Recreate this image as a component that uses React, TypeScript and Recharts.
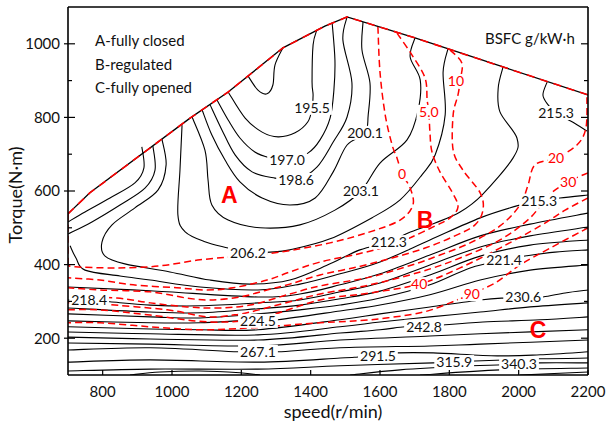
import { LineChart, Line, XAxis, YAxis } from 'recharts'

type Pt = [number, number]
type Tag = [number, number, string]

// full load torque limit
const limitCurve: Pt[] = [[700, 538], [763, 595], [1052, 798], [1162, 869], [1320, 989], [1441, 1048], [1505, 1073], [1701, 1016], [1955, 937], [2200, 861]]
const leftEdgeRed: Pt[] = [[700, 538], [700, 399]]

// BSFC iso-lines (g/kW·h)
const hook1955: Pt[] = [[1219, 913], [1248, 874], [1274, 864], [1291, 888], [1297, 942], [1320, 989]]
const c1955: Pt[] = [[1162, 869], [1211, 798], [1260, 760], [1306, 747], [1355, 758], [1392, 788], [1404, 826], [1407, 861], [1404, 896], [1407, 997], [1418, 1038]]
const c1970: Pt[] = [[1130, 847], [1162, 793], [1196, 744], [1239, 706], [1283, 690], [1332, 684], [1392, 703], [1427, 739], [1456, 798], [1467, 874], [1470, 956], [1462, 1057]]
const c1986: Pt[] = [[1110, 834], [1144, 766], [1182, 698], [1231, 652], [1297, 635], [1358, 630], [1418, 665], [1465, 733], [1505, 801], [1519, 894], [1493, 1010], [1505, 1073]]
const c2001: Pt[] = [[1087, 820], [1115, 752], [1153, 684], [1196, 625], [1260, 581], [1340, 562], [1413, 581], [1465, 652], [1505, 725], [1557, 758], [1566, 807], [1571, 894], [1548, 983], [1551, 1059]]
const c2031: Pt[] = [[1058, 801], [1095, 711], [1104, 630], [1115, 562], [1162, 521], [1254, 500], [1369, 508], [1470, 548], [1545, 600], [1600, 676], [1678, 739], [1710, 820], [1716, 902], [1687, 964], [1701, 1016]]
const c2062: Pt[] = [[1029, 779], [1023, 657], [1017, 535], [1038, 489], [1095, 462], [1162, 445], [1219, 432], [1283, 434], [1340, 440], [1456, 470], [1580, 529], [1658, 576], [1721, 644], [1759, 698], [1788, 807], [1782, 923], [1796, 986]]
const corner1: Pt[] = [[913, 720], [919, 663], [893, 622], [821, 581], [749, 543], [700, 516]]
const corner2: Pt[] = [[945, 722], [951, 657], [922, 608], [850, 562], [769, 516], [700, 483]]
const c2123: Pt[] = [[971, 741], [983, 671], [960, 603], [893, 554], [827, 508], [798, 461], [807, 423], [864, 402], [994, 380], [1110, 358], [1225, 347], [1340, 358], [1456, 402], [1542, 440], [1626, 461], [1681, 486], [1759, 513], [1831, 543], [1894, 589], [1984, 690], [1995, 744], [1946, 815], [1941, 880], [1955, 937]]
const c2153top: Pt[] = [[2082, 896], [2070, 861], [2085, 834], [2108, 812], [2154, 788], [2197, 763]]
const c2153: Pt[] = [[706, 451], [723, 418], [749, 385], [850, 369], [937, 358], [1081, 339], [1248, 331], [1369, 347], [1485, 375], [1600, 407], [1744, 467], [1889, 527], [2004, 562], [2059, 573], [2119, 581], [2200, 589]]
const c2169: Pt[] = [[700, 339], [937, 329], [1248, 312], [1369, 320], [1485, 345], [1600, 375], [1744, 426], [1889, 478], [2033, 510], [2200, 540]]
const c2184: Pt[] = [[700, 304], [761, 304], [821, 299], [937, 290], [1081, 288], [1248, 296], [1369, 304], [1485, 326], [1600, 350], [1744, 399], [1889, 448], [2033, 478], [2200, 502]]
const c2199: Pt[] = [[700, 282], [937, 271], [1081, 269], [1248, 280], [1369, 290], [1485, 307], [1600, 328], [1744, 372], [1889, 423], [2033, 453], [2200, 467]]
const c2214: Pt[] = [[700, 266], [937, 258], [1081, 255], [1248, 266], [1369, 277], [1485, 290], [1600, 309], [1744, 345], [1860, 391], [1958, 413], [2024, 424], [2105, 434], [2200, 440]]
const c2245: Pt[] = [[700, 247], [937, 242], [1081, 242], [1190, 247], [1248, 247], [1306, 250], [1485, 274], [1600, 290], [1744, 318], [1889, 358], [2033, 385], [2200, 399]]
const c2306: Pt[] = [[700, 231], [937, 225], [1081, 223], [1248, 223], [1485, 250], [1600, 266], [1744, 285], [1889, 304], [1955, 309], [2013, 309], [2070, 312], [2134, 323], [2200, 331]]
const c2367: Pt[] = [[700, 217], [937, 212], [1248, 209], [1485, 231], [1600, 244], [1744, 258], [1889, 271], [2033, 285], [2200, 296]]
const c2428: Pt[] = [[700, 203], [937, 198], [1248, 195], [1485, 214], [1600, 223], [1672, 231], [1727, 231], [1782, 236], [1897, 244], [2062, 250], [2200, 258]]
const c2549: Pt[] = [[700, 187], [937, 184], [1248, 179], [1485, 195], [1744, 206], [1889, 212], [2200, 223]]
const c2671: Pt[] = [[700, 168], [937, 174], [1190, 163], [1248, 163], [1306, 163], [1485, 174], [1744, 179], [1889, 184], [2200, 195]]
const c2915: Pt[] = [[700, 135], [937, 141], [1248, 135], [1485, 146], [1537, 149], [1594, 152], [1652, 160], [1753, 160], [1938, 152], [2062, 155], [2200, 163]]
const c3159: Pt[] = [[700, 111], [937, 116], [1248, 116], [1485, 125], [1753, 133], [1814, 135], [1874, 138], [2062, 144], [2200, 146]]
const c3403: Pt[] = [[1514, 100], [1658, 114], [1860, 125], [1938, 127], [2001, 130], [2062, 133], [2200, 133]]
const c3403hump: Pt[] = [[879, 100], [965, 108], [1081, 111], [1196, 106], [1254, 100]]
const c3647: Pt[] = [[1716, 100], [1946, 114], [2200, 119]]
const c3891: Pt[] = [[2004, 100], [2200, 108]]

// red dashed iso-lines
const r0: Pt[] = [[1594, 1046], [1600, 923], [1615, 807], [1635, 725], [1649, 690], [1664, 646], [1687, 608], [1695, 562], [1658, 521], [1571, 489], [1456, 459], [1312, 434], [1196, 423], [1081, 413], [960, 396], [836, 391], [720, 394], [700, 399]]
const r5: Pt[] = [[1649, 1029], [1692, 970], [1730, 907], [1736, 847], [1741, 815], [1744, 760], [1750, 706], [1773, 652], [1808, 597], [1825, 557], [1802, 527], [1759, 505], [1692, 475], [1635, 453], [1537, 429], [1427, 407], [1340, 380], [1274, 358], [1176, 337], [1101, 331], [1014, 337], [888, 345], [792, 358], [700, 364]]
const r10: Pt[] = [[1802, 983], [1836, 948], [1831, 899], [1825, 861], [1811, 807], [1811, 711], [1839, 657], [1889, 595], [1897, 548], [1874, 508], [1816, 478], [1730, 445], [1635, 418], [1537, 394], [1427, 372], [1340, 347], [1274, 331], [1196, 312], [1110, 304], [1043, 309], [937, 326], [792, 331], [700, 337]]
const r20: Pt[] = [[2197, 855], [2194, 771], [2168, 725], [2108, 690], [2047, 671], [2027, 616], [2004, 562], [1946, 505], [1860, 459], [1773, 426], [1692, 399], [1571, 366], [1427, 342], [1340, 320], [1225, 290], [1130, 282], [1043, 285], [937, 296], [841, 309], [700, 312]]
const r30: Pt[] = [[2200, 649], [2143, 625], [2085, 587], [2033, 527], [1946, 467], [1831, 418], [1716, 380], [1571, 345], [1427, 320], [1340, 299], [1225, 271], [1176, 263], [1101, 258], [986, 277], [792, 293], [700, 296]]
const r40: Pt[] = [[2200, 581], [2134, 548], [2062, 505], [1946, 445], [1831, 391], [1713, 347], [1571, 323], [1427, 304], [1254, 255], [1110, 244], [937, 263], [792, 277], [700, 277]]
const r90: Pt[] = [[2200, 500], [2091, 445], [2004, 399], [1932, 350], [1860, 320], [1802, 296], [1716, 269], [1571, 250], [1427, 242], [1225, 228], [1081, 223], [937, 231], [792, 242], [700, 242]]

const bsfcTags: Tag[] = [
  [1404, 826, '195.5'], [1332, 684, '197.0'], [1358, 630, '198.6'], [1557, 758, '200.1'],
  [1545, 600, '203.1'], [1219, 432, '206.2'], [1626, 461, '212.3'], [2108, 812, '215.3'],
  [2059, 573, '215.3'], [761, 304, '218.4'], [1958, 413, '221.4'], [1248, 247, '224.5'],
  [2013, 312, '230.6'], [1727, 231, '242.8'], [1248, 163, '267.1'], [1594, 152, '291.5'],
  [1814, 135, '315.9'], [2001, 130, '340.3'],
]
const redTags: Tag[] = [
  [1664, 646, '0'], [1741, 815, '5.0'], [1819, 899, '10'], [2108, 690, '20'],
  [2143, 625, '30'], [1713, 347, '40'], [1860, 320, '.90'],
]
const zoneTags: Tag[] = [[1165, 589, 'A'], [1730, 521, 'B'], [2056, 222, 'C']]

const xTicks = [800, 1000, 1200, 1400, 1600, 1800, 2000, 2200]
const yTicks = [200, 300, 400, 500, 600, 700, 800, 900, 1000]

const blackLines = [hook1955, c1955, c1970, c1986, c2001, c2031, c2062, corner1, corner2, c2123, c2153top, c2153, c2169, c2184, c2199, c2214, c2245, c2306, c2367, c2428, c2549, c2671, c2915, c3159, c3403, c3403hump, c3647, c3891]
const redLines = [r0, r5, r10, r20, r30, r40, r90, leftEdgeRed]

const FONT = 'Lato, "Open Sans", sans-serif'
const rows = (pts: Pt[]) => pts.map(([x, y]) => ({ x, y }))
const tagRows = (tags: Tag[]) => tags.map(([x, y, t]) => ({ x, y, t }))

// catmull-rom through the read points
function smooth(context: any) {
  let pts: number[][] = []
  return {
    areaStart() {},
    areaEnd() {},
    lineStart() {
      pts = []
    },
    point(x: number, y: number) {
      pts.push([+x, +y])
    },
    lineEnd() {
      const n = pts.length
      if (!n) return
      context.moveTo(pts[0][0], pts[0][1])
      if (n === 2) {
        context.lineTo(pts[1][0], pts[1][1])
        return
      }
      for (let i = 0; i < n - 1; i++) {
        const p0 = pts[Math.max(i - 1, 0)]
        const p1 = pts[i]
        const p2 = pts[i + 1]
        const p3 = pts[Math.min(i + 2, n - 1)]
        context.bezierCurveTo(
          p1[0] + (p2[0] - p0[0]) / 6, p1[1] + (p2[1] - p0[1]) / 6,
          p2[0] - (p3[0] - p1[0]) / 6, p2[1] - (p3[1] - p1[1]) / 6,
          p2[0], p2[1],
        )
      }
    },
  }
}

const tagDot = (color: string, size: number, box: boolean, bold = false, family = FONT) => (p: any) => {
  const { cx, cy, payload, index } = p
  if (cx == null || cy == null) return <g key={`e-${index}`} />
  const t: string = payload.t
  const w = t.length * size * 0.54 + 2
  return (
    <g key={`${t}-${index}`}>
      {box && <rect x={cx - w / 2} y={cy - size * 0.5} width={w} height={size} fill="#fff" />}
      <text x={cx} y={cy} dy="0.36em" textAnchor="middle" fontFamily={family} fontSize={size} fontWeight={bold ? 700 : 400} fill={color}>
        {t}
      </text>
    </g>
  )
}

const XTick = ({ x, y, payload }: any) => (
  <g>
    <line x1={x} x2={x} y1={y} y2={y - 5} stroke="#000" strokeWidth={1.2} />
    <text x={x} y={y + 22} textAnchor="middle" fontFamily={FONT} fontSize={15} fill="#111">
      {payload.value}
    </text>
  </g>
)

const YTick = ({ x, y, payload }: any) => {
  const major = payload.value % 200 === 0
  return (
    <g>
      <line x1={major ? x - 4 : x} x2={x + (major ? 7 : 4)} y1={y} y2={y} stroke="#000" strokeWidth={1.2} />
      {major && (
        <text x={x - 8} y={y} dy="0.36em" textAnchor="end" fontFamily={FONT} fontSize={15} fill="#111">
          {payload.value}
        </text>
      )}
    </g>
  )
}

const RTick = ({ x, y, payload }: any) => {
  const major = payload.value % 200 === 0
  return <line x1={x} x2={x - (major ? 7 : 4)} y1={y} y2={y} stroke="#000" strokeWidth={1.2} />
}

const axisLine = { stroke: '#000', strokeWidth: 1.6 }

export default function App() {
  return (
    <div style={{ position: 'absolute', left: 0, top: 0, width: 607, height: 424, background: '#fff' }}>
      <LineChart width={607} height={424} margin={{ top: 0, right: 0, bottom: 0, left: 0 }}>
        <XAxis dataKey="x" type="number" domain={[700, 2200]} allowDataOverflow ticks={xTicks} height={49} tickSize={0} tickMargin={0} tickLine={false} axisLine={axisLine} tick={<XTick />} interval={0} />
        <XAxis xAxisId="top" orientation="top" dataKey="x" type="number" domain={[700, 2200]} allowDataOverflow height={7} tick={false} tickLine={false} axisLine={axisLine} />
        <YAxis type="number" domain={[100, 1100]} allowDataOverflow ticks={yTicks} width={68} tickSize={0} tickMargin={0} tickLine={false} axisLine={axisLine} tick={<YTick />} interval={0} />
        <YAxis yAxisId="right" orientation="right" type="number" domain={[100, 1100]} allowDataOverflow ticks={yTicks} width={19} tickSize={0} tickMargin={0} tickLine={false} axisLine={axisLine} tick={<RTick />} interval={0} />

        {blackLines.map((pts, i) => (
          <Line key={`b${i}`} data={rows(pts)} dataKey="y" type={smooth as any} stroke="#000" strokeWidth={1.1} dot={false} activeDot={false} isAnimationActive={false} />
        ))}
        <Line data={rows(limitCurve)} dataKey="y" type="linear" stroke="#000" strokeWidth={1.3} dot={false} activeDot={false} isAnimationActive={false} />
        {redLines.map((pts, i) => (
          <Line key={`r${i}`} data={rows(pts)} dataKey="y" type={smooth as any} stroke="#f00" strokeWidth={1.5} strokeDasharray="7 4" dot={false} activeDot={false} isAnimationActive={false} />
        ))}
        <Line data={rows(limitCurve)} dataKey="y" type="linear" stroke="#f00" strokeWidth={1.6} strokeDasharray="8 6" dot={false} activeDot={false} isAnimationActive={false} />

        <Line data={tagRows(bsfcTags)} dataKey="y" stroke="none" dot={tagDot('#111', 14, true)} activeDot={false} isAnimationActive={false} />
        <Line data={tagRows(redTags)} dataKey="y" stroke="none" dot={tagDot('#f00', 14, true)} activeDot={false} isAnimationActive={false} />
        <Line data={tagRows(zoneTags)} dataKey="y" stroke="none" dot={tagDot('#f00', 23, false, true, '"Liberation Sans", Arial, sans-serif')} activeDot={false} isAnimationActive={false} />
      </LineChart>

      <div style={{ position: 'absolute', left: 95, top: 29, fontFamily: FONT, fontSize: 15, color: '#111', lineHeight: '23.5px' }}>
        <div>A-fully closed</div>
        <div>B-regulated</div>
        <div>C-fully opened</div>
      </div>
      <div style={{ position: 'absolute', left: 485, top: 29, fontFamily: FONT, fontSize: 15, color: '#111' }}>BSFC g/kW·h</div>
      <div style={{ position: 'absolute', left: 233, width: 200, top: 400, textAlign: 'center', fontFamily: FONT, fontSize: 18, color: '#111' }}>speed(r/min)</div>
      <div style={{ position: 'absolute', left: 15, top: 195, width: 0, height: 0 }}>
        <div style={{ position: 'absolute', transform: 'translate(-50%, -50%) rotate(-90deg)', whiteSpace: 'nowrap', fontFamily: FONT, fontSize: 18, color: '#111' }}>Torque(N·m)</div>
      </div>
    </div>
  )
}
